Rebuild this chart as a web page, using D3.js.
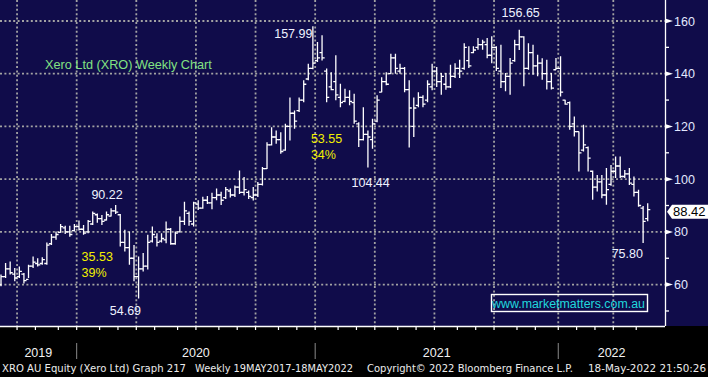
<!DOCTYPE html>
<meta charset="utf-8">
<script src="https://d3js.org/d3.v7.min.js"></script>
<style>
  body { margin: 0; background: #000; }
  svg { display: block; }
</style>
<div id="chart"></div>
<script>
// Weekly bars, week ending Friday, first week below
var firstWeek = "2019-09-06";

var open = [60,63,66,64,63,64,62,67,68,68, 68,75.5,78,79.8,81.5,80,80.5,82,81,80,
  83,86.5,85,84.5,86,88,86.5,76,74,70, 63,66,67,76.5,78,76.5,77,81,75.5,80,
  84,87,83,90.5,89,92,91,93,94,93, 95.5,94,97,95,95,93,94,98,104,113,
  116,115,111,120,125,126,130,138,142,145, 148,141,135,137,131,129.5,131,129,121,115,
  117,115,122,133,137,140,146,141,142,134, 120,128,131,130,135,141,137,136,135,139,
  142,142,145,148,150,151,151,147,150,141, 137,139,145,151,154,142,148,143,144,140,
  137,141.5,142,130,129,121,118,111,112,103, 97,99,94,98,103,105,101,102,98,95,
  89,85];
var high = [63.8,68.2,68.8,66.3,66.9,64.4,67.5,70.7,70,70.4, 76,79.2,80.1,83,82.3,82.3,83,84.3,82.6,84.5,
  87.7,87,86.4,87.7,89,90.22,86.8,80.8,80.1,75, 70.7,72,78.9,82,79.5,79.5,83.9,81.5,80.1,85.8,
  91.4,87.7,91.4,92,93.3,93.6,94.8,96.5,95.2,97, 96.5,97.6,103.3,100.8,95.7,97,98.9,104.6,114,119.7,
  118.5,117.8,121,131,126,131,137.5,143.8,157.99,152, 154.6,142,140.6,147,136.2,134.3,133.7,132.4,121.6,127.3,
  118.5,122.9,131.8,138.7,140.6,147.6,147.6,143.8,142.5,137.5, 131,133,131.8,137.5,143.8,142.5,140.3,140.3,143.4,144,
  145.3,151.6,150.4,150.4,153.5,152.9,153.5,154.2,150.4,151, 140.3,146,152.9,156.65,154.2,151.6,151,147.2,145.9,145.3,
  140.3,146,146.6,130.1,129.5,123.8,118.1,120.6,112.4,103.3, 101.6,101.6,104.2,105.4,108.6,108.6,103.5,104.2,101,96,
  89.8,90.9];
var low = [59.4,62.5,63.8,61.3,62.5,60.4,62.5,66.3,66.9,67.5, 67.5,75,77,79.7,79.2,78.2,80.1,80.5,78.9,79.5,
  82.6,83.5,82.6,84.3,85.8,86.8,74.5,72.6,67.5,61.3, 54.69,65,65.7,76,74.5,76,75.7,75.1,75.1,79.8,
  82.6,82.3,82,88.3,88.8,90.6,88.6,92,90.2,92.5, 93,93.2,94.4,93.8,92.5,91.9,93.2,97.6,103.9,112.8,
  113.4,109.6,110.8,114.7,119.1,125.5,129.2,137.5,141.7,144.4, 145,129.2,133.7,129.9,127.3,129.2,128,121,112.2,114.7,
  104.44,111.5,121.6,133,135.6,140,140,140,133,112, 116,127.3,127.3,129.2,133.7,135,132,133.9,134.6,138.4,
  138.4,141.5,142.2,147.8,149.1,149.1,145.9,144,141,134.6, 133.3,132,144.5,149,135.2,141.5,139.6,139,137.7,134,
  134,141.5,131.4,128.2,118.7,116.2,102.9,110.5,102.9,92.2, 95.3,92.8,90.3,97.5,100.4,100.4,100.4,97.8,93.4,89.5,
  75.8,84];
var close = [63,66,64.5,62.5,65,61.5,67,68.5,67.5,69.5, 75,78,79,82,80,79,82,81,79.5,84,
  87,85,84,86.5,88,87.5,76,74,70,63, 66,67,76,79,76,77.5,81,75.5,79.5,84,
  88,84,91,89,92,91,93,94,92,96, 94,97,95,96,93.5,94,98,104,113,116,
  115,110.5,120,125,122,130,136,142,144,146, 146,131,134,132,129,131,129.5,122,115,117,
  116,121,130,137,136,146,142,142,134,127, 127,131,128.5,136,141,137,139,135,139,142,
  141,150,143,149,151,152,147,150,142,137, 139,144,151,154,142,148,143,144,140,137,
  134.5,142,133,128.5,120,118,110,113,108,97, 99,94,96,103,105,101,102,98.5,95,90,
  84,88.42];

var yTicks = [60, 80, 100, 120, 140, 160];
var yMinorTicks = [50, 70, 90, 110, 130, 150];

var title = "Xero Ltd (XRO) Weekly Chart";
var website = "www.marketmatters.com.au";

// Text notes on the chart: kind "price" = white, "move" = yellow
var notes = [
  {text: "157.99", date: "2020-10-27", value: 153.55, kind: "price"},
  {text: "156.65", date: "2021-10-09", value: 161.5, kind: "price"},
  {text: "90.22", date: "2020-01-22", value: 92.5, kind: "price"},
  {text: "104.44", date: "2021-02-22", value: 97.05, kind: "price"},
  {text: "54.69", date: "2020-02-19", value: 48.5, kind: "price"},
  {text: "75.80", date: "2022-03-26", value: 70.1, kind: "price"},
  {text: "35.53", date: "2020-01-07", value: 69.0, kind: "move"},
  {text: "39%", date: "2020-01-07", value: 62.9, kind: "move"},
  {text: "53.55", date: "2020-12-22", value: 113.7, kind: "move"},
  {text: "34%", date: "2020-12-22", value: 107.7, kind: "move"}
];

var footerParts = [
  "XRO AU Equity (Xero Ltd) Graph 217",
  "Weekly 19MAY2017-18MAY2022",
  "Copyright\u00a9 2022 Bloomberg Finance L.P.",
  "18-May-2022 21:50:26"
];

// Layout
var width = 708, height = 377,
    plotRight = 665, plotBottom = 326;
var navy = "#100c4a", gridGrey = "#a3a3a3";
var font = "'Liberation Sans', Arial, sans-serif";

var parseDate = d3.utcParse("%Y-%m-%d");
var start = parseDate(firstWeek);
var dates = open.map(function(d, i) { return d3.utcDay.offset(start, 7 * i); });
var n = dates.length;

var x = d3.scaleUtc()
  .domain([dates[0], dates[n - 1]])
  .range([1, 647.7]);
var step = (x(dates[n - 1]) - x(dates[0])) / (n - 1);

var y = d3.scaleLinear()
  .domain([44.3, 167.96])
  .range([plotBottom, 0]);

// boundary position: half a bar before the first bar on/after a date
function snap(date) {
  var i = d3.bisectLeft(dates, date);
  return x(dates[i]) - step / 2;
}

var svg = d3.select("#chart")
  .append("svg")
    .attr("width", width)
    .attr("height", height)
    .style("font-family", font);

svg.append("rect")
  .attr("width", width).attr("height", height).attr("fill", "#000");
svg.append("rect")
  .attr("width", width).attr("height", plotBottom).attr("fill", navy);

// Gridlines
var quarters = d3.utcMonth.every(3).range(d3.utcMonth.ceil(dates[0]), dates[n - 1]);
var months = d3.utcMonth.range(d3.utcMonth.ceil(dates[0]), dates[n - 1]);
var yearStarts = d3.utcYear.range(d3.utcYear.ceil(dates[0]), dates[n - 1]);

var grid = svg.append("g")
  .attr("stroke", gridGrey)
  .attr("stroke-width", 1.8)
  .attr("stroke-dasharray", "2,2.4");
grid.selectAll(".hg").data(yTicks).enter().append("line")
  .attr("x1", 0).attr("x2", plotRight)
  .attr("y1", function(d) { return y(d); })
  .attr("y2", function(d) { return y(d); });
grid.selectAll(".vg").data(quarters).enter().append("line")
  .attr("x1", function(d) { return snap(d); })
  .attr("x2", function(d) { return snap(d); })
  .attr("y1", 0).attr("y2", plotBottom);

// OHLC bars
var tick = 2.6;
svg.append("g").selectAll("path")
  .data(dates)
  .enter().append("path")
    .attr("fill", "none")
    .attr("stroke", "#fff")
    .attr("stroke-width", 1.3)
    .attr("d", function(d, i) {
      var cx = x(d);
      return "M" + cx + "," + y(high[i]) + "V" + y(low[i]) +
        "M" + (cx - tick) + "," + y(open[i]) + "H" + cx +
        "M" + cx + "," + y(close[i]) + "H" + (cx + tick);
    });

// Right axis
var axisR = svg.append("g");
axisR.append("line")
  .attr("x1", plotRight + 0.5).attr("x2", plotRight + 0.5)
  .attr("y1", 0).attr("y2", plotBottom)
  .attr("stroke", "#fff").attr("stroke-width", 1.3);
axisR.selectAll(".mn").data(yMinorTicks).enter().append("line")
  .attr("x1", plotRight).attr("x2", plotRight + 4)
  .attr("y1", function(d) { return y(d); })
  .attr("y2", function(d) { return y(d); })
  .attr("stroke", "#fff").attr("stroke-width", 1.3);
axisR.selectAll(".arr").data(yTicks).enter().append("path")
  .attr("fill", "#fff")
  .attr("d", function(d) {
    var yy = y(d);
    return "M" + plotRight + "," + (yy - 2.5) + "L" + (plotRight + 8) + "," + yy +
      "L" + plotRight + "," + (yy + 2.5) + "Z";
  });
axisR.selectAll("text").data(yTicks).enter().append("text")
  .attr("x", plotRight + 9)
  .attr("y", function(d) { return y(d) + 4.6; })
  .attr("fill", "#e2e8ff")
  .attr("font-size", 12.5)
  .text(function(d) { return d; });

// Last price box
var lastY = y(close[n - 1]) + 2;
svg.append("path")
  .attr("fill", "#fff")
  .attr("d", "M" + (plotRight + 2) + "," + lastY + "L" + (plotRight + 7) + "," + (lastY - 7) +
    "H" + width + "V" + (lastY + 7) + "H" + (plotRight + 7) + "Z");
svg.append("text")
  .attr("x", plotRight + 8)
  .attr("y", lastY + 4.6)
  .attr("fill", "#000")
  .attr("font-size", 13)
  .text(d3.format(".2f")(close[n - 1]));

// Bottom axis
svg.append("line")
  .attr("x1", 0).attr("x2", plotRight)
  .attr("y1", plotBottom + 0.5).attr("y2", plotBottom + 0.5)
  .attr("stroke", "#fff").attr("stroke-width", 1.3);
svg.append("g").selectAll("line")
  .data(months)
  .enter().append("line")
    .attr("x1", function(d) { return snap(d); })
    .attr("x2", function(d) { return snap(d); })
    .attr("y1", plotBottom).attr("y2", plotBottom + 4)
    .attr("stroke", "#fff").attr("stroke-width", 1.2);

// Year separators and labels
var bounds = [0].concat(yearStarts.map(snap), [plotRight]);
svg.append("g").selectAll("line")
  .data(yearStarts)
  .enter().append("line")
    .attr("x1", function(d) { return snap(d); })
    .attr("x2", function(d) { return snap(d); })
    .attr("y1", 343).attr("y2", 359)
    .attr("stroke", "#8a8a8a").attr("stroke-width", 1);
var yearNames = [d3.utcYear.floor(dates[0])].concat(yearStarts);
svg.append("g").selectAll("text")
  .data(yearNames)
  .enter().append("text")
    .attr("x", function(d, i) { return (bounds[i] + bounds[i + 1]) / 2; })
    .attr("y", 357)
    .attr("text-anchor", "middle")
    .attr("fill", "#f2f2f2")
    .attr("font-size", 12.5)
    .text(function(d) { return d3.utcFormat("%Y")(d); });

// Title
svg.append("text")
  .attr("x", 45).attr("y", 69)
  .attr("fill", "#82e282")
  .attr("font-size", 12.7)
  .text(title);

// Notes
svg.append("g").selectAll("text")
  .data(notes)
  .enter().append("text")
    .attr("x", function(d) { return x(parseDate(d.date)); })
    .attr("y", function(d) { return y(d.value); })
    .attr("fill", function(d) { return d.kind === "move" ? "#f2f000" : "#eef2ff"; })
    .attr("font-size", 12.5)
    .text(function(d) { return d.text; });

// Website box
svg.append("rect")
  .attr("x", 491.5).attr("y", 294.5)
  .attr("width", 156).attr("height", 17)
  .attr("fill", "none").attr("stroke", "#fff").attr("stroke-width", 1.4);
svg.append("text")
  .attr("x", 492).attr("y", 308)
  .attr("fill", "#20d8dc")
  .attr("font-size", 12.5)
  .attr("textLength", 153)
  .attr("lengthAdjust", "spacingAndGlyphs")
  .text(website);

// Footer
var footerX = [2, 195, 367, 588], footerW = [184, 158, 206, 118];
svg.append("g").selectAll("text")
  .data(footerParts)
  .enter().append("text")
    .attr("x", function(d, i) { return footerX[i]; })
    .attr("y", 372)
    .attr("fill", "#ececec")
    .attr("font-family", "'DejaVu Sans', Verdana, sans-serif")
    .attr("font-size", 10.5)
    .attr("textLength", function(d, i) { return footerW[i]; })
    .attr("lengthAdjust", "spacingAndGlyphs")
    .text(function(d) { return d; });
</script>
